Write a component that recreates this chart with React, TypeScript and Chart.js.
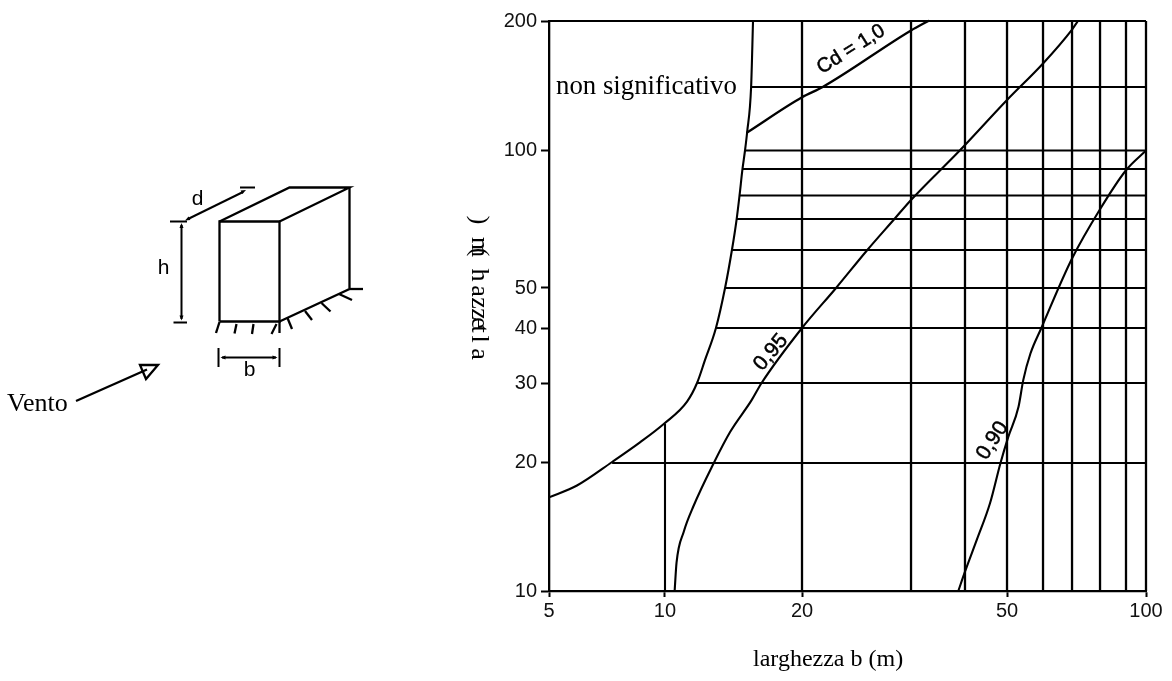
import React, { useEffect, useRef } from "react";
import { Chart, registerables, LogarithmicScale } from "chart.js";

// Axis calibration: the printed log paper is not perfectly regular.
const xKnotValues = [5, 10, 20, 30, 40, 50, 60, 70, 80, 90, 100];
const xKnotFractions = [0, 0.1943, 0.4238, 0.6064, 0.6968, 0.7672, 0.8275, 0.8761, 0.923, 0.9665, 1];
const yKnotValues = [10, 20, 30, 40, 50, 60, 70, 80, 90, 100, 140, 200];
const yKnotFractions = [0, 0.2246, 0.3649, 0.4614, 0.5316, 0.5982, 0.6526, 0.6939, 0.7404, 0.7728, 0.8842, 1];

const xTickValues = [5, 10, 20, 50, 100];
const yTickValues = [10, 20, 30, 40, 50, 100, 200];

// Grid lines of the diagram
const xGridValues = [20, 30, 40, 50, 60, 70, 80, 90, 100];
const x10GridTop = 24.4;
const yGridValues = [20, 30, 40, 50, 60, 70, 80, 90, 100, 140];
const yGridStarts = [7.29, 11.76, 12.94, 13.55, 14.03, 14.37, 14.58, 14.8, 14.99, 15.46];

// Curves
const limitX = [5, 5.91, 7.29, 8.61, 9.94, 11.18, 11.76, 12.24, 12.94, 13.55, 14.03, 14.37, 14.58, 14.8, 14.99, 15.15, 15.46, 15.61];
const limitY = [16.6, 17.7, 20.1, 22.2, 24.4, 27.3, 30, 33.8, 40, 50, 60, 70, 80, 90, 100, 110, 140, 200];
const cd100X = [15.15, 20, 21.6, 30, 32.9];
const cd100Y = [110, 132.6, 140, 190, 200];
const cd095X = [10.5, 10.6, 11, 11.54, 12.8, 13.9, 15.5, 16.3, 20, 22.7, 25.5, 28.2, 30, 38.9, 50, 60, 70, 72];
const cd095Y = [10, 11.64, 13.8, 15.8, 20, 23.4, 27.5, 30, 40, 50, 60, 70, 78, 100, 130.7, 159, 191, 200];
const cd090X = [38.6, 40, 42.6, 45.7, 48.3, 50.3, 53, 54.3, 56.3, 59.5, 70, 80, 90, 100];
const cd090Y = [10, 11.1, 13.2, 16.1, 20, 22.8, 26.6, 30.5, 35, 40, 57.6, 74, 89.5, 100];

const curveLabels = ["Cd = 1,0", "0,95", "0,90"];
const xTitle = "larghezza b (m)";
const yTitleGlyphs = [")", "m", "(", "h", "a", "z", "z", "e", "t", "l", "a"];
const yTitleCentres = [220, 247, 252, 275, 291, 303, 314, 323, 329, 339, 354];
const regionLabel = "non significativo";
const windLabel = "Vento";

const ARIAL = '"Liberation Sans", Arial, sans-serif';
const TIMES = '"Liberation Serif", "Times New Roman", serif';

class WarpedLogScale extends LogarithmicScale {
  static id = "warpedLog";
  static defaults = {};
  getPixelForValue(value: number) {
    const vals: number[] = (this.options as any).knotValues;
    const fr: number[] = (this.options as any).knotFractions;
    let i = 0;
    while (i < vals.length - 2 && value > vals[i + 1]) i++;
    const t = Math.log(value / vals[i]) / Math.log(vals[i + 1] / vals[i]);
    const f = fr[i] + t * (fr[i + 1] - fr[i]);
    return this.isHorizontal() ? this.left + f * this.width : this.bottom - f * this.height;
  }
}

const zip = (xs: number[], ys: number[]) => xs.map((x, i) => ({ x, y: ys[i] }));

function segment(data: { x: number; y: number }[], width: number, color = "#000") {
  return {
    data,
    borderColor: color,
    borderWidth: width,
    pointRadius: 0,
    tension: 0,
    clip: 3,
    borderCapStyle: "butt" as const,
  };
}
function curve(xs: number[], ys: number[], width = 2.1) {
  return {
    ...segment(zip(xs, ys), width),
    cubicInterpolationMode: "monotone" as const,
    borderCapStyle: "round" as const,
  };
}

function arrowHead(ctx: CanvasRenderingContext2D, x: number, y: number, ang: number, len = 5, half = 2) {
  ctx.save();
  ctx.translate(x, y);
  ctx.rotate(ang);
  ctx.beginPath();
  ctx.moveTo(0, 0);
  ctx.lineTo(-len, -half);
  ctx.lineTo(-len, half);
  ctx.closePath();
  ctx.fill();
  ctx.restore();
}

function poly(ctx: CanvasRenderingContext2D, pts: number[][]) {
  ctx.beginPath();
  pts.forEach((p, i) => (i ? ctx.lineTo(p[0], p[1]) : ctx.moveTo(p[0], p[1])));
  ctx.stroke();
}

const annotations = {
  id: "annotations",
  afterDraw(chart: any) {
    const ctx: CanvasRenderingContext2D = chart.ctx;
    const sx = chart.scales.x;
    const sy = chart.scales.y;
    ctx.save();
    ctx.fillStyle = "#000";
    ctx.strokeStyle = "#000";

    // curve labels
    const rot = (text: string, xv: number, yv: number, deg: number, font: string) => {
      ctx.save();
      ctx.translate(sx.getPixelForValue(xv), sy.getPixelForValue(yv));
      ctx.rotate((deg * Math.PI) / 180);
      ctx.font = font;
      ctx.textAlign = "center";
      ctx.textBaseline = "middle";
      ctx.lineWidth = 0.5;
      ctx.fillText(text, 0, 0);
      ctx.strokeText(text, 0, 0);
      ctx.restore();
    };
    rot(curveLabels[0], 24.0, 171.6, -32, `20px ${ARIAL}`);
    rot(curveLabels[1], 17.1, 35.2, -50, `21px ${ARIAL}`);
    rot(curveLabels[2], 46.3, 22.4, -57, `21px ${ARIAL}`);

    // region label, axis titles
    ctx.textAlign = "left";
    ctx.textBaseline = "alphabetic";
    ctx.font = `26.8px ${TIMES}`;
    ctx.fillText(regionLabel, 556, 94);
    ctx.font = `24px ${TIMES}`;
    ctx.fillText(xTitle, 753, 666);
    ctx.font = `26px ${TIMES}`;
    ctx.fillText(windLabel, 7, 411);

    // y title, one glyph at a time (as printed)
    yTitleGlyphs.forEach((g, i) => {
      ctx.save();
      ctx.translate(472, yTitleCentres[i]);
      ctx.rotate(Math.PI / 2);
      ctx.textAlign = "center";
      ctx.fillText(g, 0, 0);
      ctx.restore();
    });

    // building sketch
    ctx.lineWidth = 2.3;
    ctx.lineCap = "butt";
    ctx.lineJoin = "miter";
    poly(ctx, [[219.5, 321.5], [219.5, 221.5], [279.5, 221.5], [279.5, 321.5], [219.5, 321.5]]);
    poly(ctx, [[219.5, 221.5], [289.5, 187.5], [349.5, 187.5], [279.5, 221.5]]);
    poly(ctx, [[349.5, 187.5], [349.5, 289], [279.5, 321.5]]);
    poly(ctx, [[349.5, 289], [363, 289]]);
    const hatch = [
      [219.5, 322, 216, 333], [236.5, 324, 234.5, 333.5], [253.5, 324, 252, 334], [276.5, 324, 271.5, 334],
      [279.5, 322, 279.5, 333], [287.5, 318, 292, 329], [305, 311, 312, 320], [321.5, 303, 330.5, 311.5], [339, 294, 352, 300],
    ];
    hatch.forEach((h) => poly(ctx, [[h[0], h[1]], [h[2], h[3]]]));
    ctx.lineWidth = 2;
    poly(ctx, [[170, 221.5], [187, 221.5]]);
    poly(ctx, [[173.5, 322.5], [187, 322.5]]);
    poly(ctx, [[181.5, 225], [181.5, 319]]);
    arrowHead(ctx, 181.5, 223, -Math.PI / 2);
    arrowHead(ctx, 181.5, 320.5, Math.PI / 2);
    poly(ctx, [[240, 187.5], [255, 187.5]]);
    poly(ctx, [[188, 219], [243, 192]]);
    arrowHead(ctx, 185, 220.5, Math.PI + Math.atan2(-27, 55));
    arrowHead(ctx, 246, 190, Math.atan2(-27, 55));
    poly(ctx, [[218.5, 348], [218.5, 367]]);
    poly(ctx, [[279.5, 348], [279.5, 367]]);
    poly(ctx, [[222, 357.5], [276, 357.5]]);
    arrowHead(ctx, 220.5, 357.5, Math.PI);
    arrowHead(ctx, 277.5, 357.5, 0);
    ctx.font = `21px ${ARIAL}`;
    ctx.textAlign = "center";
    ctx.fillText("d", 197.5, 205);
    ctx.fillText("h", 163.5, 274);
    ctx.fillText("b", 249.5, 376);

    // wind arrow
    ctx.lineWidth = 2.3;
    poly(ctx, [[76, 401], [147, 369.5]]);
    ctx.beginPath();
    ctx.moveTo(140, 365);
    ctx.lineTo(158, 365);
    ctx.lineTo(146, 379);
    ctx.closePath();
    ctx.stroke();
    ctx.restore();
  },
};

Chart.register(...registerables, WarpedLogScale);

export default function App() {
  const ref = useRef<HTMLCanvasElement>(null);
  useEffect(() => {
    document.body.style.margin = "0";
    document.body.style.background = "#fff";
    const datasets: any[] = [
      ...xGridValues.map((x) => segment([{ x, y: 10 }, { x, y: 200 }], 2.3)),
      segment([{ x: 10, y: 10 }, { x: 10, y: x10GridTop }], 2.1),
      ...yGridValues.map((y, i) => segment([{ x: yGridStarts[i], y }, { x: 100, y }], 2.1)),
      segment([{ x: 5, y: 200 }, { x: 100, y: 200 }], 2.1),
      curve(limitX, limitY),
      curve(cd100X, cd100Y, 2.3),
      curve(cd095X, cd095Y),
      curve(cd090X, cd090Y),
    ];
    const tickFont = { family: ARIAL, size: 20 };
    const chart = new Chart(ref.current as HTMLCanvasElement, {
      type: "line",
      data: { datasets },
      plugins: [annotations],
      options: {
        responsive: false,
        animation: false,
        devicePixelRatio: 1,
        layout: { padding: { left: 0, right: 26, top: 21, bottom: 0 } },
        plugins: { legend: { display: false }, tooltip: { enabled: false } },
        scales: {
          x: {
            type: "warpedLog",
            min: 5,
            max: 100,
            knotValues: xKnotValues,
            knotFractions: xKnotFractions,
            afterBuildTicks: (s: any) => {
              s.ticks = xTickValues.map((value) => ({ value }));
            },
            afterFit: (s: any) => {
              s.height = 90;
            },
            ticks: {
              autoSkip: false,
              maxRotation: 0,
              minRotation: 0,
              padding: 2,
              color: "#111",
              font: tickFont,
              callback: (v: any) => String(v),
            },
            grid: { drawOnChartArea: false, color: "#000", tickLength: 6, tickWidth: 2 },
            border: { display: true, color: "#000", width: 2.3 },
          },
          y: {
            type: "warpedLog",
            min: 10,
            max: 200,
            knotValues: yKnotValues,
            knotFractions: yKnotFractions,
            afterBuildTicks: (s: any) => {
              s.ticks = yTickValues.map((value) => ({ value }));
            },
            afterFit: (s: any) => {
              s.width = 549;
            },
            ticks: {
              autoSkip: false,
              padding: 4,
              color: "#111",
              font: tickFont,
              callback: (v: any) => String(v),
            },
            grid: { drawOnChartArea: false, color: "#000", tickLength: 8, tickWidth: 2 },
            border: { display: true, color: "#000", width: 2.3 },
          },
        },
      } as any,
    });
    return () => chart.destroy();
  }, []);
  return (
    <canvas
      ref={ref}
      width={1172}
      height={681}
      style={{ position: "absolute", left: 0, top: 0, display: "block" }}
    />
  );
}
